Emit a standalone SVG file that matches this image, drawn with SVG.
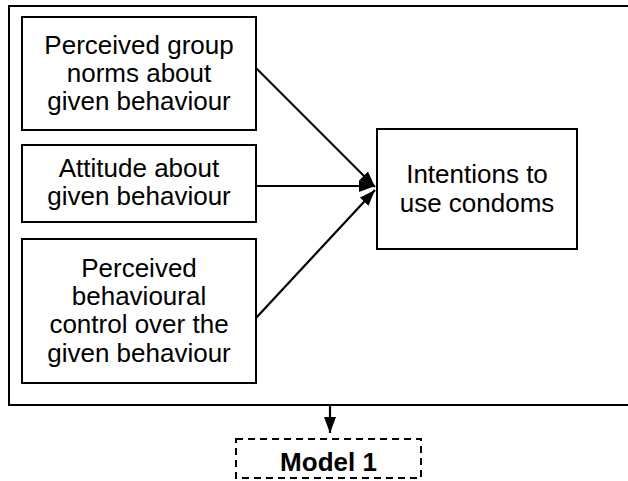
<svg xmlns="http://www.w3.org/2000/svg" width="628" height="481" viewBox="0 0 628 481">
<style>
.box{fill:#fff;stroke:#000;stroke-width:2}
.t{font-family:"Liberation Sans",Arial,sans-serif;font-size:26px;fill:#000;text-anchor:middle}
.b{font-weight:bold}
.c{stroke:#000;stroke-width:2.2;fill:none}
</style>
<defs>
<marker id="ah" viewBox="0 0 16 12" refX="16" refY="6" markerWidth="16" markerHeight="12" markerUnits="userSpaceOnUse" orient="auto">
<path d="M0,0 L16,6 L0,12 Z" fill="#000"/>
</marker>
</defs>
<rect x="0" y="0" width="628" height="481" fill="#fff"/>
<g id="outer"><rect class="box" x="9" y="6" width="625" height="399"/></g>
<g id="connectors">
<line class="c" x1="256" y1="68" x2="375" y2="187" marker-end="url(#ah)"/>
<line class="c" x1="256" y1="186" x2="375" y2="186" marker-end="url(#ah)"/>
<line class="c" x1="256" y1="318" x2="375" y2="190" marker-end="url(#ah)"/>
<line class="c" x1="330" y1="405" x2="330" y2="433" marker-end="url(#ah)"/>
</g>
<g id="n1"><rect class="box" x="22" y="17" width="234" height="113"/>
<text class="t" x="139" y="54">Perceived group</text>
<text class="t" x="139" y="82">norms about</text>
<text class="t" x="139" y="110">given behaviour</text></g>
<g id="n2"><rect class="box" x="22" y="145" width="234" height="77"/>
<text class="t" x="139" y="177">Attitude about</text>
<text class="t" x="139" y="205">given behaviour</text></g>
<g id="n3"><rect class="box" x="22" y="239" width="234" height="144"/>
<text class="t" x="139" y="277">Perceived</text>
<text class="t" x="139" y="305">behavioural</text>
<text class="t" x="139" y="333">control over the</text>
<text class="t" x="139" y="362">given behaviour</text></g>
<g id="n4"><rect class="box" x="377" y="129" width="200" height="120"/>
<text class="t" x="477" y="183">Intentions to</text>
<text class="t" x="477" y="212">use condoms</text></g>
<g id="n5"><rect class="box" x="236" y="439" width="185" height="39" stroke-dasharray="7,5"/>
<text class="t b" x="328.5" y="471">Model 1</text></g>
</svg>
